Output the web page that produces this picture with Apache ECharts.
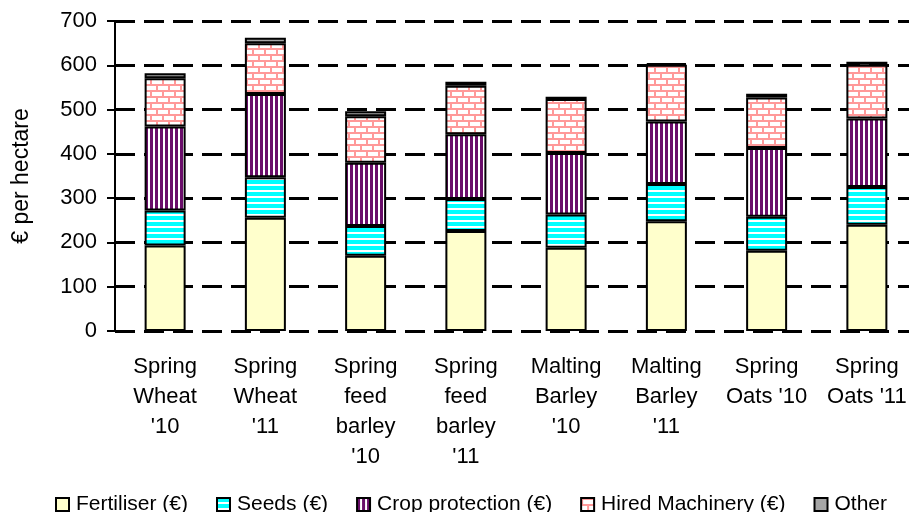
<!DOCTYPE html>
<html>
<head>
<meta charset="utf-8">
<script src="https://cdn.jsdelivr.net/npm/echarts@6/dist/echarts.min.js"></script>
<style>
  html, body { margin: 0; padding: 0; background: #fff; }
  #chart { width: 909px; height: 512px; }
</style>
</head>
<body>
<div id="chart"></div>
<script>
// Cost categories per crop and year (€ per hectare)
const categories = [
  "Spring\nWheat\n'10", "Spring\nWheat\n'11",
  "Spring\nfeed\nbarley\n'10", "Spring\nfeed\nbarley\n'11",
  "Malting\nBarley\n'10", "Malting\nBarley\n'11",
  "Spring\nOats '10", "Spring\nOats '11"
];
const fertiliser     = [193, 256, 170, 226, 188, 248, 181, 240];
const seeds          = [79, 91, 67, 72, 75, 84, 77, 85];
const cropProtection = [190, 188, 143, 146, 139, 141, 155, 155];
const hiredMachinery = [109, 115, 105, 110, 122, 128, 114, 121];
const other          = [11, 12, 11, 9, 5, 4, 9, 7];
const seriesNames = ['Fertiliser (€)', 'Seeds (€)', 'Crop protection (€)', 'Hired Machinery (€)', 'Other'];

// Fill patterns drawn on small canvas tiles
function tile(w, h, draw) {
  const c = document.createElement('canvas');
  c.width = w; c.height = h;
  draw(c.getContext('2d'));
  return { image: c, repeat: 'repeat' };
}
const seedsFill = tile(6, 6, g => {
  g.fillStyle = '#00FFFF'; g.fillRect(0, 0, 6, 6);
  g.fillStyle = '#FFFFFF'; g.fillRect(0, 4, 6, 2);
});
const cropFill = tile(5, 5, g => {
  g.fillStyle = '#6A0D6A'; g.fillRect(0, 0, 5, 5);
  g.fillStyle = '#FFFFFF'; g.fillRect(3, 0, 2, 5);
});
const hiredFill = tile(12, 12, g => {
  g.fillStyle = '#FFFFFF'; g.fillRect(0, 0, 12, 12);
  g.fillStyle = '#FF9999';
  g.fillRect(0, 0, 12, 2);
  g.fillRect(0, 6, 12, 2);
  g.fillRect(0, 0, 2, 6);
  g.fillRect(6, 6, 2, 6);
});

const fills = ['#FFFFCC', seedsFill, cropFill, hiredFill, '#A6A6A6'];
const values = [fertiliser, seeds, cropProtection, hiredMachinery, other];
const FONT = '"Liberation Sans", Arial, sans-serif';

const chart = echarts.init(document.getElementById('chart'), null, { renderer: 'canvas' });
chart.setOption({
  animation: false,
  backgroundColor: '#FFFFFF',
  grid: { left: 115, top: 21, width: 802, height: 310, containLabel: false, outerBoundsMode: 'none' },
  legend: {
    left: 50, top: 489,
    itemWidth: 13, itemHeight: 13, itemGap: 28,
    icon: 'rect',
    textStyle: { fontFamily: FONT, fontSize: 21, color: '#000', padding: [0, 0, 0, 2] },
    itemStyle: { borderColor: '#000', borderWidth: 2 },
    data: seriesNames
  },
  xAxis: {
    type: 'category',
    data: categories,
    axisLine: { show: false },
    axisTick: { show: false },
    axisLabel: {
      interval: 0, margin: 21,
      fontFamily: FONT, fontSize: 22, lineHeight: 30, color: '#000', align: 'center'
    }
  },
  yAxis: {
    type: 'value',
    min: 0, max: 700, interval: 100,
    name: '€ per hectare',
    nameLocation: 'middle', nameRotate: 90, nameGap: 82,
    nameTextStyle: { fontFamily: FONT, fontSize: 23, color: '#000' },
    axisLine: { show: true, lineStyle: { color: '#000', width: 2 } },
    axisTick: { show: true, inside: false, length: 8, lineStyle: { color: '#000', width: 2 } },
    axisLabel: { margin: 18, fontFamily: FONT, fontSize: 22, color: '#000' },
    splitLine: { show: true, lineStyle: { color: '#000', width: 3, type: [20, 9] } }
  },
  series: seriesNames.map((name, i) => ({
    name: name,
    type: 'bar',
    stack: 'costs',
    barWidth: 41,
    data: values[i],
    itemStyle: { color: fills[i], borderColor: '#000', borderWidth: 2 },
    emphasis: { disabled: true }
  }))
});
</script>
</body>
</html>
